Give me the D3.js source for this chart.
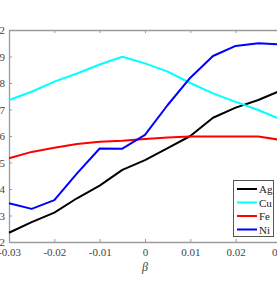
<!DOCTYPE html>
<html><head><meta charset="utf-8">
<script src="https://cdn.jsdelivr.net/npm/d3@7"></script>
<style>body{margin:0;background:#fff;overflow:hidden}svg{display:block}</style>
</head><body>
<script>
const betas = [-0.03,-0.025,-0.02,-0.015,-0.01,-0.005,0,0.005,0.01,0.015,0.02,0.025,0.03];
const ag = [1.235,1.275,1.311,1.365,1.413,1.472,1.509,1.554,1.600,1.669,1.707,1.736,1.772];
const cu = [1.736,1.767,1.805,1.836,1.870,1.899,1.874,1.843,1.800,1.761,1.729,1.698,1.662];
const fe = [1.516,1.540,1.556,1.570,1.578,1.582,1.589,1.594,1.598,1.598,1.598,1.598,1.585];
const ni = [1.346,1.325,1.358,1.459,1.553,1.552,1.604,1.717,1.820,1.902,1.940,1.950,1.945];
const seriesNames = ["Ag","Cu","Fe","Ni"];
const seriesColors = ["#000000","#00ffff","#ff0000","#0000ff"];
const xTickValues = [-0.03,-0.02,-0.01,0,0.01,0.02,0.03];
const xTickLabels = ["-0.03","-0.02","-0.01","0","0.01","0.02","0.03"];
const yTickValues = [1.2,1.3,1.4,1.5,1.6,1.7,1.8,1.9,2.0];
const yTickLabels = ["1.2","1.3","1.4","1.5","1.6","1.7","1.8","1.9","2"];
const xLabel = "β";

const W=277,H=284;
const svg=d3.select("body").append("svg").attr("width",W).attr("height",H);
const L=9,T=30,R=281,B=242;
const x=d3.scaleLinear().domain([-0.03,0.03]).range([L,R]);
const y=d3.scaleLinear().domain([1.2,2.0]).range([B,T]);
const axisColor="#9a9a9a", textColor="#444";
const font='"Liberation Serif","Times New Roman",serif';

function style(g){
  g.select(".domain").attr("stroke",axisColor).attr("stroke-width",1.3);
  g.selectAll(".tick line").attr("stroke",axisColor).attr("stroke-width",1);
  g.selectAll(".tick text").attr("fill",textColor).style("font-family",font).style("font-size","11px");
}
svg.append("g").attr("transform",`translate(0,${B})`)
  .call(d3.axisBottom(x).tickValues(xTickValues).tickFormat((d,i)=>xTickLabels[i]).tickSizeInner(-3).tickSizeOuter(0).tickPadding(6)).call(style);
svg.append("g").attr("transform",`translate(0,${T})`)
  .call(d3.axisTop(x).tickValues(xTickValues).tickFormat("").tickSizeInner(-3).tickSizeOuter(0)).call(style);
svg.append("g").attr("transform",`translate(${L},0)`)
  .call(d3.axisLeft(y).tickValues(yTickValues).tickFormat((d,i)=>yTickLabels[i]).tickSizeInner(-3).tickSizeOuter(0).tickPadding(4)).call(style);
svg.append("g").attr("transform",`translate(${R},0)`)
  .call(d3.axisRight(y).tickValues(yTickValues).tickFormat("").tickSizeInner(-3).tickSizeOuter(0)).call(style);

svg.append("text").attr("x",x(0)).attr("y",271).attr("text-anchor","middle")
  .attr("fill",textColor).style("font-family",font).style("font-size","12px").style("font-style","italic").text(xLabel);

const data=[ag,cu,fe,ni];
const line=d3.line().x((d,i)=>x(betas[i])).y(d=>y(d));
data.forEach((s,k)=>{
  svg.append("path").datum(s).attr("d",line).attr("fill","none")
    .attr("stroke",seriesColors[k]).attr("stroke-width",2).attr("stroke-linejoin","round");
});

const lg=svg.append("g");
lg.append("rect").attr("x",233.5).attr("y",180.5).attr("width",40).attr("height",56)
  .attr("fill","#fff").attr("stroke","#555").attr("stroke-width",1);
seriesNames.forEach((n,k)=>{
  const yy=189+k*13.5;
  lg.append("line").attr("x1",237).attr("x2",257).attr("y1",yy).attr("y2",yy)
    .attr("stroke",seriesColors[k]).attr("stroke-width",2);
  lg.append("text").attr("x",259).attr("y",yy).attr("dominant-baseline","central")
    .attr("fill","#222").style("font-family",font).style("font-size","11px").text(n);
});
</script>
</body></html>
